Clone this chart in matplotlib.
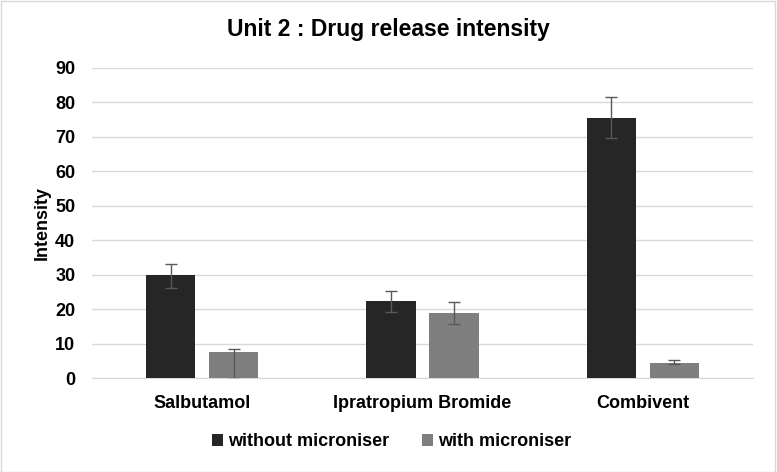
import matplotlib
matplotlib.use("Agg")
import matplotlib.pyplot as plt
import numpy as np

categories = ["Salbutamol", "Ipratropium Bromide", "Combivent"]
without_vals = [29.8, 22.4, 75.6]
without_err_low = [3.6, 3.1, 6.0]
without_err_high = [3.3, 3.0, 6.0]
with_vals = [7.6, 18.9, 4.5]
with_err_low = [8.0, 3.3, 0.5]
with_err_high = [0.8, 3.3, 0.6]
yticks = [0, 10, 20, 30, 40, 50, 60, 70, 80, 90]

plt.rcParams['font.family'] = ['Liberation Sans', 'DejaVu Sans']

fig = plt.figure(figsize=(7.77, 4.72), dpi=100)
ax = fig.add_axes([0.1184, 0.199, 0.8506, 0.657])

x = np.arange(len(categories))
w = 0.223
off = 0.143
ekw = dict(ecolor='#595959', elinewidth=1.0, capsize=4, capthick=1.0)
b1 = ax.bar(x - off, without_vals, w, color='#262626', label='without microniser',
            yerr=[without_err_low, without_err_high], error_kw=ekw, zorder=3)
b2 = ax.bar(x + off, with_vals, w, color='#7f7f7f', label='with microniser',
            yerr=[with_err_low, with_err_high], error_kw=ekw, zorder=3)

ax.set_xlim(-0.5, len(categories) - 0.5)
ax.set_ylim(0, 90)
ax.set_yticks(yticks)
ax.set_yticklabels([str(t) for t in yticks], fontsize=13, fontweight='bold')
ax.set_xticks(x)
ax.set_xticklabels(categories, fontsize=13, fontweight='bold')
ax.tick_params(axis='y', length=0, pad=12)
ax.tick_params(axis='x', length=0, pad=12)
ax.grid(axis='y', color='#d9d9d9', linewidth=1, zorder=0)
for s in ['top', 'right', 'left']:
    ax.spines[s].set_visible(False)
ax.spines['bottom'].set_color('#d9d9d9')
ax.set_ylabel('Intensity', fontsize=13, fontweight='bold', labelpad=3)

fig.suptitle('Unit 2 : Drug release intensity', fontsize=16.5, fontweight='bold', y=0.962)

fig.legend(handles=[b1, b2], loc='center', bbox_to_anchor=(0.504, 0.064), ncol=2,
           frameon=False, prop={'size': 13, 'weight': 'bold'}, handlelength=0.6,
           handleheight=0.6, handletextpad=0.3, columnspacing=1.8)

fig.patches.append(plt.Rectangle((0.001, 0.001), 0.997, 0.997, transform=fig.transFigure,
                                 fill=False, edgecolor='#d9d9d9', linewidth=1))

fig.savefig('out.png', dpi=100)
